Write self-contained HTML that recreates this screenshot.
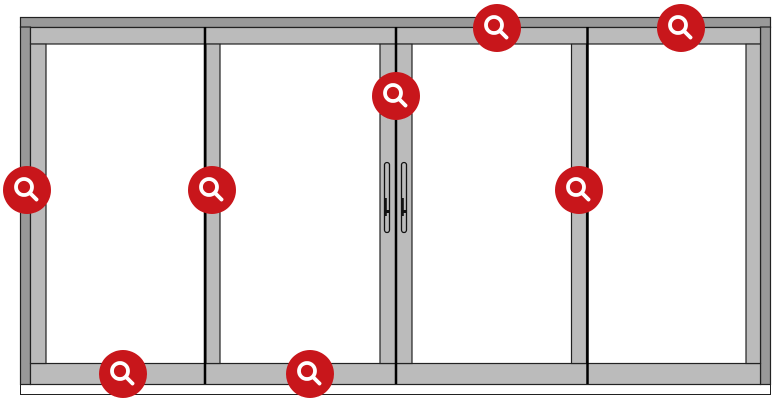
<!DOCTYPE html>
<html><head><meta charset="utf-8"><style>
html,body{margin:0;padding:0;background:#fff;width:772px;height:402px;overflow:hidden}
svg{display:block}
</style></head><body>
<svg width="772" height="402" viewBox="0 0 772 402" xmlns="http://www.w3.org/2000/svg">
<defs>
<g id="mag">
<circle r="24" fill="#c8161b"/>
<circle cx="-3" cy="-3" r="8" fill="none" stroke="#fff" stroke-width="3.8"/>
<line x1="3.5" y1="3.5" x2="9.5" y2="9.5" stroke="#fff" stroke-width="3.8" stroke-linecap="round"/>
</g>
</defs>
<rect x="20.5" y="384.5" width="750" height="10" fill="#fff" stroke="#222" stroke-width="1"/>
<rect x="20.5" y="17.5" width="750" height="10" fill="#999" stroke="#222" stroke-width="1.2"/>
<rect x="20.5" y="27" width="10" height="357.5" fill="#999" stroke="#222" stroke-width="1.2"/>
<rect x="760.5" y="27" width="10" height="357.5" fill="#999" stroke="#222" stroke-width="1.2"/>
<g fill="#bbb" stroke="#222" stroke-width="1.2">
<rect x="30.5" y="27.5" width="730" height="16.5"/>
<rect x="30.5" y="363.5" width="730" height="21"/>
<rect x="30.5" y="44" width="15.5" height="319.5"/>
<rect x="206" y="44" width="14" height="319.5"/>
<rect x="380" y="44" width="16" height="319.5"/>
<rect x="396" y="44" width="16" height="319.5"/>
<rect x="571.5" y="44" width="15" height="319.5"/>
<rect x="746" y="44" width="14.5" height="319.5"/>
</g>
<g stroke="#000" stroke-width="2.5">
<line x1="205" y1="27" x2="205" y2="384"/>
<line x1="396" y1="27" x2="396" y2="384"/>
<line x1="587.5" y1="27" x2="587.5" y2="384"/>
</g>
<g fill="none" stroke="#111" stroke-width="1.3">
<rect x="384.5" y="162.5" width="5" height="70" rx="2.5"/>
<rect x="401.5" y="162.5" width="5" height="70" rx="2.5"/>
</g>
<g fill="#111">
<rect x="385" y="198" width="1.8" height="18"/>
<rect x="402" y="198" width="1.8" height="18"/>
<rect x="385" y="210" width="4" height="3"/>
<rect x="402" y="210" width="4" height="3"/>
</g>
<use href="#mag" x="497" y="28"/>
<use href="#mag" x="681" y="28"/>
<use href="#mag" x="396" y="96"/>
<use href="#mag" x="27" y="190"/>
<use href="#mag" x="212" y="190"/>
<use href="#mag" x="579" y="190"/>
<use href="#mag" x="123" y="374"/>
<use href="#mag" x="310" y="374"/>
</svg>
</body></html>
